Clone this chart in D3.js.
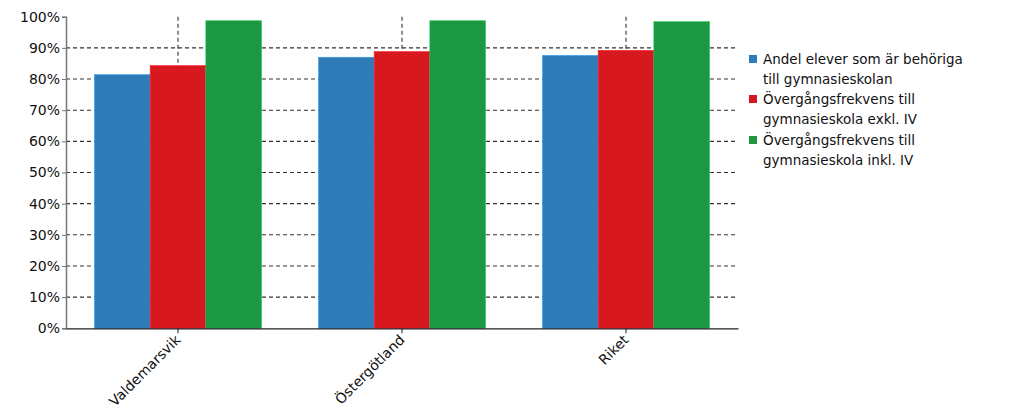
<!DOCTYPE html>
<html><head><meta charset="utf-8">
<script src="https://cdn.jsdelivr.net/npm/d3@7"></script>
<style>body{margin:0;background:#fff}svg{display:block}</style>
</head><body>
<svg id="c" width="1024" height="410"></svg>
<script>
const categories = ["Valdemarsvik", "Östergötland", "Riket"];
const seriesNames = ["Andel elever som är behöriga till gymnasieskolan", "Övergångsfrekvens till gymnasieskola exkl. IV", "Övergångsfrekvens till gymnasieskola inkl. IV"];
const legendLines = [["Andel elever som är behöriga", "till gymnasieskolan"], ["Övergångsfrekvens till", "gymnasieskola exkl. IV"], ["Övergångsfrekvens till", "gymnasieskola inkl. IV"]];
const behoriga = [81.4, 87.0, 87.6];
const exklIV = [84.3, 88.8, 89.2];
const inklIV = [98.7, 98.7, 98.4];
const colors = ["#2e7bb8", "#d7191f", "#1c9742"];
const yTicks = [0, 10, 20, 30, 40, 50, 60, 70, 80, 90, 100];

const series = [behoriga, exklIV, inklIV];
const svg = d3.select("#c");
const font = "DejaVu Sans, Verdana, sans-serif";
const m = {l: 66, t: 16.7, r: 738, b: 328.3};

const x = d3.scaleBand().domain(categories).range([m.l, m.r]).paddingInner(0.254).paddingOuter(0.127);
const xs = d3.scaleBand().domain([0,1,2]).range([0, x.bandwidth()]);
const y = d3.scaleLinear().domain([0, 100]).range([m.b, m.t]);

// horizontal gridlines
svg.append("g").selectAll("line").data(yTicks.filter(d => d > 0 && d < 100)).join("line")
  .attr("x1", m.l).attr("x2", m.r).attr("y1", d => y(d)).attr("y2", d => y(d))
  .attr("stroke", "#333").attr("stroke-width", 1.1).attr("stroke-dasharray", "4,3");
// vertical gridlines at category centres
svg.append("g").selectAll("line").data(categories).join("line")
  .attr("x1", d => x(d) + x.bandwidth()/2).attr("x2", d => x(d) + x.bandwidth()/2)
  .attr("y1", m.t).attr("y2", m.b)
  .attr("stroke", "#333").attr("stroke-width", 1.1).attr("stroke-dasharray", "4,3");

// bars
series.forEach((vals, si) => {
  svg.append("g").selectAll("rect").data(vals).join("rect")
    .attr("x", (d, i) => x(categories[i]) + xs(si))
    .attr("width", xs.bandwidth())
    .attr("y", d => y(d))
    .attr("height", d => y(0) - y(d))
    .attr("fill", colors[si])
    .attr("stroke", d3.color(colors[si]).brighter(0.8))
    .attr("stroke-width", 0.6);
});

// y axis
const ya = svg.append("g").attr("transform", `translate(${m.l},0)`)
  .call(d3.axisLeft(y).tickValues(yTicks).tickFormat(d => d + "%").tickSize(4).tickPadding(2));
ya.select(".domain").attr("stroke", "#777").attr("stroke-width", 1.5);
ya.selectAll(".tick line").attr("stroke", "#777");
ya.selectAll("text").attr("font-family", font).attr("font-size", 14).attr("fill", "#111");

// x axis
const xa = svg.append("g").attr("transform", `translate(0,${m.b})`)
  .call(d3.axisBottom(x).tickSize(5).tickSizeOuter(0));
xa.select(".domain").attr("stroke", "#222").attr("stroke-width", 1.2);
xa.selectAll(".tick line").attr("stroke", "#222");
xa.selectAll("text").attr("font-family", font).attr("font-size", 14).attr("fill", "#111")
  .attr("text-anchor", "end").attr("x", 0).attr("y", 0).attr("dy", "0.35em")
  .attr("transform", "translate(0,9) rotate(-45)");

// legend
const lg = svg.append("g").attr("transform", "translate(749,0)");
const itemY = [59, 99, 140];
legendLines.forEach((lines, i) => {
  lg.append("rect").attr("x", 0).attr("y", itemY[i] - 4).attr("width", 8).attr("height", 8).attr("fill", colors[i]);
  lines.forEach((t, j) => {
    lg.append("text").attr("x", 14).attr("y", itemY[i] + j * 20.5).attr("dy", "0.35em")
      .attr("font-family", font).attr("font-size", 13.5).attr("fill", "#111").text(t);
  });
});
</script>
</body></html>
